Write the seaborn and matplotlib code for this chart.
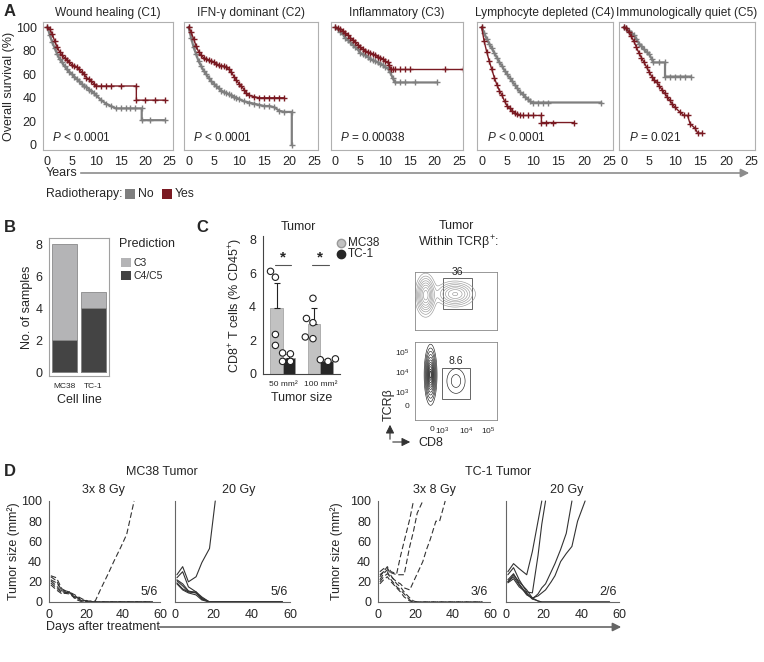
import numpy as np
import pandas as pd
import matplotlib
matplotlib.use('Agg')
import matplotlib.pyplot as plt
from matplotlib.patches import Rectangle
from matplotlib.lines import Line2D
import seaborn as sns

sns.set_style('white')
plt.rcParams['font.family'] = ['Liberation Sans', 'DejaVu Sans']
plt.rcParams['mathtext.fontset'] = 'custom'
plt.rcParams['mathtext.rm'] = 'Liberation Sans'
plt.rcParams['mathtext.it'] = 'Liberation Sans:italic'
plt.rcParams['font.size'] = 9

GRAY = '#7f7f7f'
RED = '#7a1a22'

# ---------------- data: panel A (Kaplan-Meier) ----------------
clusters = ['Wound healing (C1)', 'IFN-γ dominant (C2)', 'Inflammatory (C3)',
            'Lymphocyte depleted (C4)', 'Immunologically quiet (C5)']
p_values = ['$P$ < 0.0001', '$P$ < 0.0001', '$P$ = 0.00038', '$P$ < 0.0001', '$P$ = 0.021']

half_years = [0, 0.5, 1, 1.5, 2, 2.5, 3, 3.5, 4, 4.5, 5, 5.5, 6, 6.5, 7, 7.5, 8, 8.5, 9, 9.5]

no_t = [
    half_years + [10, 11, 12, 13, 14, 15, 16, 17, 18, 19.3, 19.3, 21, 24],
    half_years + [10, 11, 12, 13, 14, 15, 16, 17, 18, 19, 20.5, 20.5],
    half_years + [10, 10.5, 11, 11.5, 12, 13, 14, 16, 20.5],
    half_years + [10, 11, 12, 13, 23.4],
    half_years[:11] + [5.5, 5.8, 7, 8.1, 8.1, 9, 10, 11, 12, 13.2],
]
no_s = [
    [100, 93, 87, 82, 77, 73, 70, 67, 64, 62, 60, 58, 56, 54, 52, 50, 49, 47, 46, 44,
     42, 38, 35, 33, 31, 31, 31, 31, 31, 31, 21, 21, 21],
    [100, 91, 83, 77, 71, 67, 63, 60, 57, 54, 52, 50, 48, 46, 45, 44, 43, 42, 41, 40,
     39, 37, 36, 35, 34, 33, 33, 32, 29, 28, 28, 0],
    [100, 98, 96, 94, 91, 89, 87, 85, 83, 81, 78, 77, 76, 75, 73, 72, 71, 70, 69, 68,
     66, 65, 62, 57, 53, 53, 53, 53, 53],
    [100, 95, 90, 86, 82, 78, 74, 70, 67, 63, 60, 57, 54, 51, 48, 45, 43, 41, 39, 37,
     36, 36, 36, 36, 36],
    [100, 99, 97, 95, 93, 90, 86, 84, 81, 79, 77, 73, 70, 70, 70, 58, 58, 58, 58, 58, 58],
]
yes_t = [
    half_years + [10, 11, 12, 13, 15, 18.2, 18.2, 20, 22, 24],
    half_years + [10, 10.5, 11, 11.5, 12, 13, 14, 15, 16, 17, 18, 19],
    half_years + [10, 10.5, 10.8, 11.2, 11.5, 12, 13, 14, 15, 22, 25.8],
    half_years[:16] + [8, 9, 10, 11.7, 11.7, 12.5, 14, 18],
    half_years + [10, 11, 11.8, 12.5, 13, 14, 14.5, 15.3],
]
yes_s = [
    [100, 98, 94, 88, 83, 79, 76, 74, 72, 70, 68, 67, 66, 64, 62, 60, 57, 56, 54, 52,
     50, 50, 50, 50, 50, 50, 38, 38, 38, 38],
    [100, 96, 90, 84, 79, 76, 74, 73, 72, 71, 70, 69, 68, 67, 67, 66, 64, 62, 58, 55,
     52, 50, 47, 44, 42, 41, 40, 40, 40, 40, 40, 40],
    [100, 99, 98, 97, 95, 93, 91, 89, 87, 85, 83, 81, 80, 79, 78, 77, 76, 75, 74, 73,
     71, 70, 68, 64, 64, 64, 64, 64, 64, 64, 64],
    [100, 88, 79, 71, 64, 57, 51, 46, 42, 37, 33, 31, 29, 27, 26, 25,
     25, 25, 25, 25, 19, 19, 19, 19],
    [100, 99, 96, 92, 88, 83, 78, 74, 70, 66, 62, 58, 55, 53, 50, 47, 44, 41, 38, 35,
     32, 28, 25, 25, 18, 14, 10, 10],
]

# ---------------- data: panel B ----------------
cell_lines = ['MC38', 'TC-1']
c3_counts = [6, 1]
c45_counts = [2, 4]

# ---------------- data: panel C ----------------
tumor_sizes = ['50 mm²', '100 mm²']
c_lines = ['MC38', 'TC-1']
bar_means = {'MC38': [3.9, 3.0], 'TC-1': [0.95, 0.75]}
bar_err_up = [1.5, 0.25, 0.95, 0.12]   # MC38 50, TC-1 50, MC38 100, TC-1 100
pts_mc38_50 = [6.1, 5.75, 2.35, 1.7]
pts_tc1_50 = [1.2, 1.25, 0.75, 0.75]
pts_mc38_100 = [4.5, 3.3, 3.05, 2.2, 2.1]
pts_tc1_100 = [0.75, 0.9, 0.85]

# ---------------- data: flow plots (population centres / spreads in display units) ----
flow_top_centers = [(0.13, 0.60), (0.49, 0.62)]
flow_top_spreads = [(0.055, 0.16), (0.11, 0.10)]
flow_top_weights = [1.0, 0.75]
flow_bot_centers = [(0.19, 0.58), (0.50, 0.50)]
flow_bot_spreads = [(0.028, 0.14), (0.07, 0.10)]
flow_bot_weights = [1.0, 0.07]
gate_top = (0.34, 0.36, 0.70, 0.90)
gate_bot = (0.33, 0.27, 0.67, 0.67)
gate_labels = ['36', '8.6']
flow_x_major = [0.21, 0.33, 0.63, 0.89]
flow_y_major = [0.19, 0.36, 0.62, 0.87]
flow_tick_labels = ['0', '$10^{3}$', '$10^{4}$', '$10^{5}$']

# ---------------- data: panel D (tumour growth) ----------------
mc38_days = [1, 4, 7, 11, 14, 18, 21, 25, 28, 32, 35, 39, 42, 46, 49, 53, 56]
mc38_3x8 = [
    [22, 19, 12, 10, 7, 3, 1, 1, 13, 28, 40, 55, 67, 100],
    [26, 24, 13, 9, 6, 2, 1] + [0] * 10,
    [25, 21, 11, 10, 5, 2] + [0] * 11,
    [21, 16, 10, 9, 5, 1] + [0] * 11,
    [19, 14, 9, 8, 4, 1] + [0] * 11,
    [17, 12, 8, 10, 3] + [0] * 12,
]
mc38_20 = [
    [27, 35, 20, 25, 39, 53, 100],
    [24, 30, 15, 10, 5] + [0] * 12,
    [22, 18, 11, 9, 4] + [0] * 12,
    [21, 16, 10, 9, 3] + [0] * 12,
    [19, 13, 10, 10, 3] + [0] * 12,
    [18, 12, 9, 7, 2] + [0] * 12,
]
tc1_days_3x8 = [1, 3, 5, 7, 10, 12, 14, 17, 19, 21, 24, 26, 28, 31, 33, 36, 38, 42, 45, 49, 52, 56]
tc1_3x8 = [
    [25, 30, 35, 30, 28, 45, 60, 82, 100],
    [22, 28, 32, 29, 27, 27, 27, 55, 70, 88, 100],
    [20, 25, 28, 25, 20, 18, 14, 12, 20, 28, 40, 52, 62, 80, 80, 100],
    [30, 33, 34, 26, 18, 15, 10, 4, 1] + [0] * 13,
    [27, 30, 30, 22, 15, 12, 8, 2] + [0] * 14,
    [18, 22, 25, 20, 14, 10, 5, 1] + [0] * 14,
]
tc1_days_20 = [1, 4, 7, 11, 14, 17, 19, 21, 24, 26, 29, 32, 35, 38, 40, 42, 45, 49, 52, 55]
tc1_20 = [
    [30, 38, 33, 27, 50, 80, 100],
    [27, 34, 22, 10, 9, 46, 77, 100],
    [22, 28, 18, 8, 3, 8, 14, 18, 30, 38, 52, 68, 100],
    [20, 25, 17, 7, 4, 6, 9, 12, 20, 26, 40, 48, 55, 80, 90, 100],
    [20, 27, 20, 12, 4, 1] + [0] * 14,
    [19, 23, 15, 9, 3, 1] + [0] * 14,
]
fractions = ['5/6', '5/6', '3/6', '2/6']

# ---------------- figure helpers (pixel layout) ----------------
W, H = 764, 662
fig = plt.figure(figsize=(W / 100, H / 100), dpi=100)


def add_ax(x0, y0, x1, y1):
    return fig.add_axes([x0 / W, 1 - y1 / H, (x1 - x0) / W, (y1 - y0) / H])


def ftext(x, y, s, **kw):
    kw.setdefault('va', 'center')
    return fig.text(x / W, 1 - y / H, s, **kw)


def fpt(x, y):
    return (x / W, 1 - y / H)


def frect(x0, y0, x1, y1, color):
    fig.add_artist(Rectangle(fpt(x0, y1), (x1 - x0) / W, (y1 - y0) / H,
                             transform=fig.transFigure, facecolor=color, edgecolor='none'))


def farrow(p0, p1, color, lw=1.2):
    fig.add_artist(matplotlib.patches.FancyArrowPatch(
        fpt(*p0), fpt(*p1), transform=fig.transFigure, arrowstyle='-|>,head_length=5,head_width=2.5',
        color=color, lw=lw, mutation_scale=1))


def style_spines(ax, color, lw=0.8, sides=('left', 'bottom', 'right', 'top')):
    for k, s in ax.spines.items():
        s.set_visible(k in sides)
        s.set_color(color)
        s.set_linewidth(lw)


def place_ylabel(ax, x0, x1, center_px):
    # y label anchor sits on the text's right side, ~5 px right of its centre
    ax.yaxis.set_label_coords(-(x0 - center_px - 5) / (x1 - x0), 0.5)


# ================= Panel A =================
ftext(4, 12, 'A', fontsize=12, fontweight='bold')
a_edges = [(43, 173), (184, 318), (331, 463), (477, 613), (619, 755)]
for i, (x0, x1) in enumerate(a_edges):
    ax = add_ax(x0, 22, x1, 150)
    sns.lineplot(x=no_t[i], y=no_s[i], estimator=None, sort=False, color=GRAY, lw=1.6,
                 marker='+', markersize=5, markeredgewidth=1.0, markeredgecolor=GRAY, ax=ax)
    sns.lineplot(x=yes_t[i], y=yes_s[i], estimator=None, sort=False, color=RED, lw=1.0,
                 marker='+', markersize=5, markeredgewidth=1.0, markeredgecolor=RED, ax=ax)
    ax.set_xlim(-0.9, 25.7)
    ax.set_ylim(-4.3, 104.3)
    ax.set_xticks(range(0, 26, 5))
    ax.set_yticks(range(0, 101, 20))
    ax.tick_params(axis='both', length=2.5, width=0.6, color='#888', pad=2, labelsize=9)
    ax.tick_params(axis='x', length=0, pad=4)
    if i > 0:
        ax.tick_params(axis='y', labelleft=False)
    else:
        ax.set_ylabel('Overall survival (%)', fontsize=9)
        place_ylabel(ax, x0, x1, 10)
    ax.set_xlabel('')
    style_spines(ax, '#b0b0b0')
    ax.set_title(clusters[i], fontsize=8.6, pad=4)
    ax.text(0.07, 0.10, p_values[i], transform=ax.transAxes, fontsize=8.5, va='center')

ftext(46, 173, 'Years', fontsize=9)
farrow((78, 173), (752, 173), '#8c8c8c')
ftext(46, 194, 'Radiotherapy:', fontsize=8.8)
frect(125, 189, 135, 199, GRAY)
ftext(138, 194, 'No', fontsize=8.8)
frect(162, 189, 172, 199, RED)
ftext(175, 194, 'Yes', fontsize=8.8)

# ================= Panel B =================
ftext(4, 228, 'B', fontsize=12, fontweight='bold')
C3_COL = '#b4b4b6'
C45_COL = '#444444'
axb = add_ax(49, 238, 109, 376)
totals = [a + b for a, b in zip(c3_counts, c45_counts)]
sns.barplot(x=cell_lines, y=totals, color=C3_COL, saturation=1, width=0.87,
            edgecolor='#8a8a8a', linewidth=0.6, ax=axb)
sns.barplot(x=cell_lines, y=c45_counts, color=C45_COL, saturation=1, width=0.87,
            edgecolor='#8a8a8a', linewidth=0.6, ax=axb)
axb.set_xlim(-0.53, 1.53)
axb.set_ylim(-0.25, 8.4)
axb.set_yticks([0, 2, 4, 6, 8])
axb.tick_params(axis='y', length=2.5, width=0.6, color='#888', pad=2, labelsize=9)
axb.tick_params(axis='x', length=0, pad=5, labelsize=6)
style_spines(axb, '#a0a0a0')
axb.set_ylabel('No. of samples', fontsize=9)
place_ylabel(axb, 49, 109, 28)
axb.set_xlabel('Cell line', fontsize=9, labelpad=3)
ftext(119, 244, 'Prediction', fontsize=9)
frect(121, 258, 131, 267, C3_COL)
ftext(134, 263, 'C3', fontsize=7.5)
frect(121, 271, 131, 280, C45_COL)
ftext(134, 276, 'C4/C5', fontsize=7.5)

# ================= Panel C =================
ftext(196, 228, 'C', fontsize=12, fontweight='bold')
MC_COL = '#c2c2c2'
TC_COL = '#262626'
axc = add_ax(263, 236, 340, 374)
bar_df = pd.DataFrame({
    'size': tumor_sizes * 2,
    'line': [c_lines[0]] * 2 + [c_lines[1]] * 2,
    'value': bar_means['MC38'] + bar_means['TC-1'],
})
sns.barplot(data=bar_df, x='size', y='value', hue='line', order=tumor_sizes, hue_order=c_lines,
            palette=[MC_COL, TC_COL], saturation=1, errorbar=None, width=0.67,
            edgecolor='#9a9a9a', linewidth=0.5, legend=False, ax=axc)
bars = sorted(axc.patches, key=lambda p: p.get_x())
for p, e in zip(bars, bar_err_up):
    xc = p.get_x() + p.get_width() / 2
    axc.errorbar([xc], [p.get_height()], yerr=[[0], [e]], fmt='none', ecolor='#222',
                 elinewidth=0.8, capsize=2.5, capthick=0.8)
pts_df = pd.DataFrame({
    'size': [tumor_sizes[0]] * (len(pts_mc38_50) + len(pts_tc1_50))
            + [tumor_sizes[1]] * (len(pts_mc38_100) + len(pts_tc1_100)),
    'line': ['MC38'] * len(pts_mc38_50) + ['TC-1'] * len(pts_tc1_50)
            + ['MC38'] * len(pts_mc38_100) + ['TC-1'] * len(pts_tc1_100),
    'value': pts_mc38_50 + pts_tc1_50 + pts_mc38_100 + pts_tc1_100,
})
sns.swarmplot(data=pts_df, x='size', y='value', hue='line', order=tumor_sizes, hue_order=c_lines,
              dodge=True, palette=['white', 'white'], edgecolor='#222', linewidth=0.8,
              size=4.6, legend=False, ax=axc)
for gx in range(len(tumor_sizes)):
    axc.plot([gx - 0.22, gx + 0.22], [6.45, 6.45], color='#555', lw=0.8)
    axc.text(gx, 6.5, '*', ha='center', va='bottom', fontsize=11, fontweight='bold')
axc.set_xlim(-0.53, 1.52)
axc.set_ylim(0, 8.2)
axc.set_yticks([0, 2, 4, 6, 8])
axc.tick_params(axis='y', length=3, width=0.6, color='#444', pad=2, labelsize=9)
axc.tick_params(axis='x', length=0, pad=5, labelsize=6)
style_spines(axc, '#444', sides=('left', 'bottom'))
axc.set_ylabel('CD8$^{+}$ T cells (% CD45$^{+}$)', fontsize=9)
place_ylabel(axc, 263, 340, 240)
axc.set_xlabel('Tumor size', fontsize=9, labelpad=3)
ftext(298, 227, 'Tumor', fontsize=9, ha='center')
fig.add_artist(Line2D([fpt(341, 243)[0]], [fpt(341, 243)[1]], marker='o', markersize=6,
                      color=MC_COL, markeredgecolor='#999', transform=fig.transFigure))
ftext(348, 243, 'MC38', fontsize=8.5)
fig.add_artist(Line2D([fpt(341, 254)[0]], [fpt(341, 254)[1]], marker='o', markersize=6,
                      color=TC_COL, transform=fig.transFigure))
ftext(348, 254, 'TC-1', fontsize=8.5)

# ================= Flow plots =================
ftext(456, 226, 'Tumor', fontsize=9, ha='center')
ftext(458, 243, 'Within TCRβ$^{+}$:', fontsize=9, ha='center')


def minor_ticks(major):
    out = []
    p0, p3, p4, p5 = major
    for k in range(1, 9):
        out.append(p0 - (p0 - 0.02) * k / 8)
        out.append(p0 + (p3 - p0) * k / 9)
    for a, b in ((p3, p4), (p4, p5)):
        out += [a + (b - a) * np.log10(k) for k in range(2, 10)]
    return out


def draw_flow(ax, centers, spreads, weights, levels, color, lw, gate, label, show_labels):
    g = np.linspace(0, 1, 260)
    X, Y = np.meshgrid(g, g)
    Z = np.zeros_like(X)
    for (cx, cy), (sx, sy), w in zip(centers, spreads, weights):
        Z += w * np.exp(-((X - cx) ** 2 / (2 * sx ** 2) + (Y - cy) ** 2 / (2 * sy ** 2)))
    ax.contour(X, Y, Z, levels=levels, colors=color, linewidths=lw)
    x0, y0, x1, y1 = gate
    ax.add_patch(Rectangle((x0, y0), x1 - x0, y1 - y0, fill=False, edgecolor='#666', lw=0.7))
    ax.text((x0 + x1) / 2, y1 + 0.02, label, ha='center', va='bottom', fontsize=7.5)
    ax.set_xlim(0, 1)
    ax.set_ylim(0, 1)
    ax.set_xticks(flow_x_major)
    ax.set_yticks(flow_y_major)
    ax.set_xticks(minor_ticks(flow_x_major), minor=True)
    ax.set_yticks(minor_ticks(flow_y_major), minor=True)
    if show_labels:
        ax.set_xticklabels(flow_tick_labels)
        ax.set_yticklabels(flow_tick_labels)
    else:
        ax.set_xticklabels([])
        ax.set_yticklabels([])
    ax.tick_params(which='major', length=3, width=0.6, color='#555', pad=1, labelsize=6)
    ax.tick_params(which='minor', length=1.6, width=0.4, color='#555')
    style_spines(ax, '#888', lw=0.6)


axf1 = add_ax(415, 272, 497, 330)
draw_flow(axf1, flow_top_centers, flow_top_spreads, flow_top_weights,
          [0.06, 0.12, 0.2, 0.3, 0.42, 0.56, 0.72, 0.88], '#9a9a9a', 0.45,
          gate_top, gate_labels[0], False)
axf2 = add_ax(415, 342, 497, 420)
draw_flow(axf2, flow_bot_centers, flow_bot_spreads, flow_bot_weights,
          [0.02, 0.05, 0.1, 0.18, 0.28, 0.4, 0.52, 0.64, 0.76, 0.88, 0.95], '#222', 0.45,
          gate_bot, gate_labels[1], True)
farrow((390, 442), (390, 422), '#333', lw=0.8)
farrow((390, 442), (413, 442), '#333', lw=0.8)
ftext(389, 405, 'TCRβ', fontsize=9, rotation=90, ha='center')
ftext(418, 443, 'CD8', fontsize=9)

# ================= Panel D =================
ftext(4, 472, 'D', fontsize=12, fontweight='bold')
ftext(162, 472, 'MC38 Tumor', fontsize=9, ha='center')
ftext(498, 472, 'TC-1 Tumor', fontsize=9, ha='center')


def long_df(days, curves):
    rows = []
    for k, vals in enumerate(curves):
        for d, v in zip(days, vals):
            rows.append((k, d, v))
    return pd.DataFrame(rows, columns=['mouse', 'day', 'size'])


d_specs = [
    ((49, 160), mc38_days, mc38_3x8, (0, (5, 2.5)), '3x 8 Gy', 103, 15),
    ((175, 290), mc38_days, mc38_20, '-', '20 Gy', 239, None),
    ((378, 490), tc1_days_3x8, tc1_3x8, (0, (5, 2.5)), '3x 8 Gy', 434, 338),
    ((506, 619), tc1_days_20, tc1_20, '-', '20 Gy', 567, None),
]
for j, ((x0, x1), days, curves, ls, title, tx, ylab_x) in enumerate(d_specs):
    ax = add_ax(x0, 501, x1, 602)
    sns.lineplot(data=long_df(days, curves), x='day', y='size', units='mouse', estimator=None,
                 color='#333', lw=0.8, linestyle=ls, ax=ax, clip_on=False)
    ax.set_xlim(0, 60)
    ax.set_ylim(0, 100)
    ax.set_xticks([0, 20, 40, 60])
    ax.set_yticks([0, 20, 40, 60, 80, 100])
    ax.tick_params(axis='both', length=3, width=0.6, color='#555', pad=2, labelsize=9)
    style_spines(ax, '#666', sides=('left', 'bottom'))
    ax.set_xlabel('')
    if ylab_x is not None:
        ax.set_ylabel('Tumor size (mm²)', fontsize=9)
        place_ylabel(ax, x0, x1, ylab_x)
    else:
        ax.set_ylabel('')
        ax.tick_params(axis='y', labelleft=False)
    ax.text(0.98, 0.1, fractions[j], transform=ax.transAxes, ha='right', va='center', fontsize=9)
    ftext(tx, 490, title, fontsize=9, ha='center')

ftext(46, 627, 'Days after treatment', fontsize=9)
farrow((157, 627), (624, 627), '#666')

fig.savefig('out.png', dpi=100)
